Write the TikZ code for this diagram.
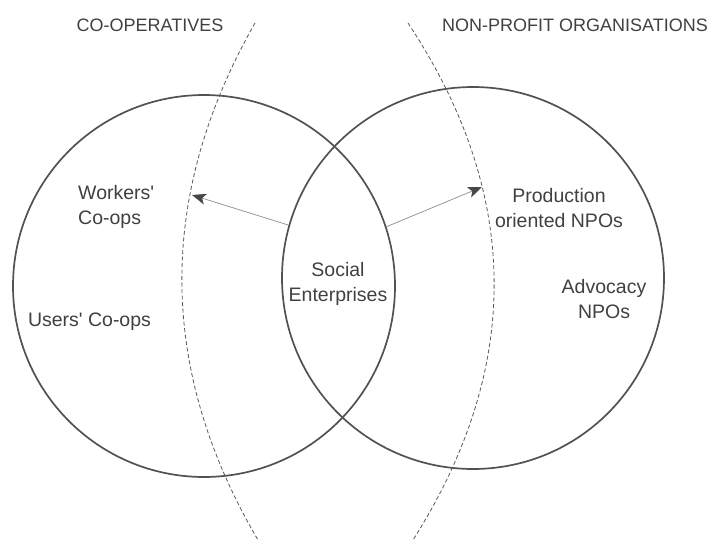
\documentclass[tikz,border=0pt]{standalone}
\usepackage{fontspec}
\setmainfont{Liberation Sans}
\usetikzlibrary{arrows.meta}

\begin{document}
\begin{tikzpicture}[x=1pt, y=-1pt,
    sector/.style={circle, draw=black!68, line width=1.7pt, minimum size=382pt, inner sep=0pt},
    divider/.style={draw=black!65, line width=0.8pt, dash pattern=on 4pt off 2.5pt},
    heading/.style={text=black!75, inner sep=0pt, font=\fontsize{18}{22}\selectfont},
    txt/.style={text=black!75, inner sep=0pt, align=center, font=\fontsize{19.5}{24.5}\selectfont},
    pointer/.style={draw=black!45, line width=0.7pt, -{Stealth[length=14pt, width=11pt, inset=3.5pt, color=black!72]}}]
    \useasboundingbox (0,0) rectangle (712,540);

    % The two sectors
    \node[sector] (coop) at (204,286) {};
    \node[sector] (npo) at (473,278) {};

    % Headings
    \node[heading] (coophead) at (150,25) {CO-OPERATIVES};
    \node[heading] (npohead) at (575,25) {NON-PROFIT ORGANISATIONS};

    % Dashed borders of the social economy
    \draw[divider] (255,23) .. controls (157,195) and (157,368) .. (258,540);
    \draw[divider] (408,23) .. controls (522,195) and (522,368) .. (413,540);

    % Texts inside the circles
    \node[txt, align=left, anchor=west] (workers) at (78,207) {Workers\textquotesingle\\Co-ops};
    \node[txt] (users) at (89.5,322) {Users\textquotesingle{} Co-ops};
    \node[txt] (se) at (338,284) {Social\\Enterprises};
    \node[txt] (prod) at (559,208) {Production\\oriented NPOs};
    \node[txt] (advo) at (604,299) {Advocacy\\NPOs};

    % Arrows from the overlap to the borders
    \coordinate (wtip) at (192,195);
    \coordinate (ptip) at (482,187);
    \draw[pointer] (npo.164) -- (wtip);
    \draw[pointer] (coop.18) -- (ptip);
\end{tikzpicture}
\end{document}
